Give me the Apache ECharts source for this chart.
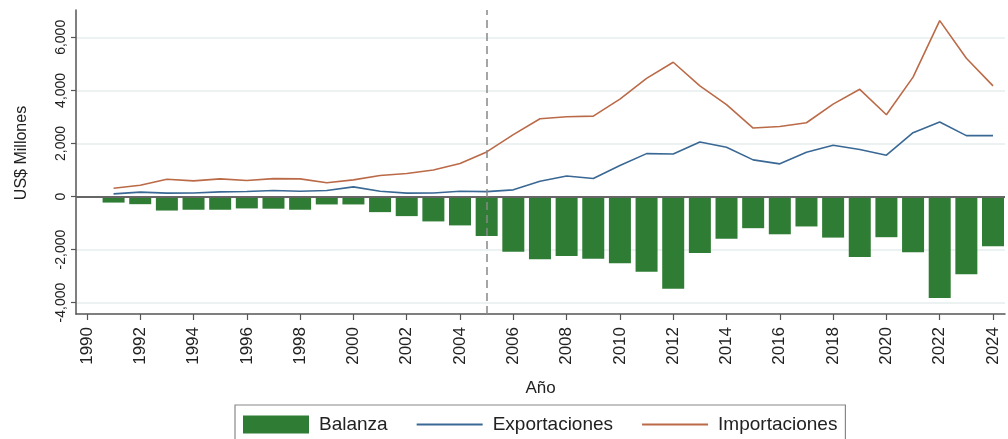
<!DOCTYPE html>
<html>
<head>
<meta charset="utf-8">
<script src="https://cdn.jsdelivr.net/npm/echarts@6/dist/echarts.min.js"></script>
<style>
html,body{margin:0;padding:0;background:#fff;}
#c{width:1008px;height:439px;}
</style>
</head>
<body>
<div id="c"></div>
<script>
const years = [1991,1992,1993,1994,1995,1996,1997,1998,1999,2000,2001,2002,2003,2004,2005,2006,2007,2008,2009,2010,2011,2012,2013,2014,2015,2016,2017,2018,2019,2020,2021,2022,2023,2024];
const exportaciones = [100,163,125,130,175,190,225,200,225,363,200,125,130,200,185,250,575,775,680,1165,1615,1600,2055,1855,1380,1230,1665,1930,1770,1555,2405,2810,2295,2295];
const importaciones = [313,425,650,590,665,600,675,665,515,627,790,865,1000,1240,1680,2330,2930,3008,3030,3670,4450,5060,4170,3460,2580,2640,2780,3480,4040,3080,4500,6630,5210,4170];
const balanza = [-230,-290,-530,-500,-500,-450,-460,-500,-300,-300,-590,-740,-940,-1090,-1490,-2080,-2370,-2245,-2345,-2520,-2835,-3475,-2130,-1595,-1195,-1425,-1130,-1550,-2285,-1535,-2100,-3830,-2930,-1880];
const xTicks = [1990,1992,1994,1996,1998,2000,2002,2004,2006,2008,2010,2012,2014,2016,2018,2020,2022,2024];
const yTicks = [-4000,-2000,0,2000,4000,6000];
const refYear = 2005;

const chart = echarts.init(document.getElementById('c'));
const fmt = v => Math.round(v).toLocaleString('en-US');
const hiddenSym = {color: 'rgba(0,0,0,0)', borderColor: 'rgba(0,0,0,0)', borderWidth: 0};
chart.setOption({
  animation: false,
  textStyle: {fontFamily: 'Liberation Sans, Arial, sans-serif'},
  grid: {left: 76, right: 3, top: 10, bottom: 125, containLabel: false},
  legend: {
    left: 235, top: 405,
    padding: [10, 8, 12, 8],
    borderColor: '#888', borderWidth: 1.2,
    itemWidth: 66, itemHeight: 18, itemGap: 28,
    textStyle: {fontSize: 19, color: '#222', padding: [0,0,0,5]},
    data: [
      {name: 'Balanza', icon: 'rect'},
      {name: 'Exportaciones', itemStyle: hiddenSym, lineStyle: {color: '#3a6894', width: 2}},
      {name: 'Importaciones', itemStyle: hiddenSym, lineStyle: {color: '#bb6a48', width: 2}}
    ]
  },
  xAxis: {
    type: 'value', min: 1989.59, max: 2024.45,
    name: 'Año', nameLocation: 'middle', nameGap: 66,
    nameTextStyle: {fontSize: 17, color: '#222'},
    axisLine: {show: true, onZero: false, lineStyle: {color: '#555', width: 1.5}},
    axisTick: {show: true, length: 6, lineStyle: {color: '#555', width: 1.2}, customValues: xTicks},
    axisLabel: {rotate: 90, fontSize: 17, color: '#222', margin: 13, customValues: xTicks, formatter: v => String(v)},
    splitLine: {show: false}
  },
  yAxis: {
    type: 'value', min: -4430, max: 7030,
    name: 'US$ Millones', nameLocation: 'middle', nameGap: 46,
    nameTextStyle: {fontSize: 16, color: '#222', padding: [0,0,0,18]},
    axisLine: {show: true, lineStyle: {color: '#555', width: 1.5}},
    axisTick: {show: true, length: 5, lineStyle: {color: '#555', width: 1.2}, customValues: yTicks},
    axisLabel: {rotate: 90, fontSize: 14, color: '#222', margin: 8, customValues: yTicks, formatter: fmt},
    splitLine: {show: true, lineStyle: {color: '#e6eeee', width: 1.5}}
  },
  series: [
    {
      name: 'Balanza', type: 'bar', barWidth: 22,
      itemStyle: {color: '#2f7d34'},
      data: years.map((y, i) => [y, balanza[i]]),
      markLine: {
        silent: true, symbol: 'none', label: {show: false},
        data: [
          {yAxis: 0, lineStyle: {color: '#666', width: 2, type: 'solid'}},
          {xAxis: refYear, lineStyle: {color: '#888', width: 1.5, type: [8, 5]}}
        ]
      }
    },
    {
      name: 'Exportaciones', type: 'line', symbol: 'none',
      lineStyle: {color: '#3a6894', width: 1.6}, itemStyle: {color: '#3a6894'},
      data: years.map((y, i) => [y, exportaciones[i]])
    },
    {
      name: 'Importaciones', type: 'line', symbol: 'none',
      lineStyle: {color: '#bb6a48', width: 1.6}, itemStyle: {color: '#bb6a48'},
      data: years.map((y, i) => [y, importaciones[i]])
    }
  ]
});
</script>
</body>
</html>
